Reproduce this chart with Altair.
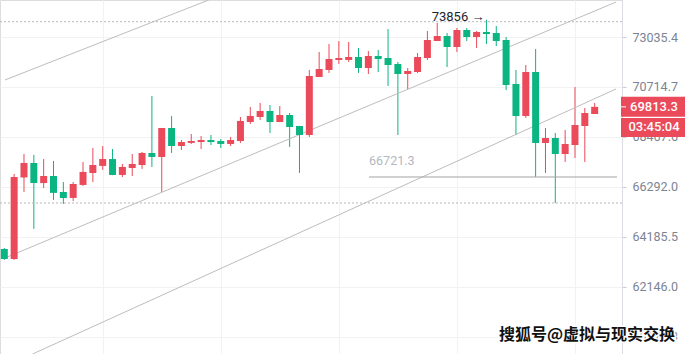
import altair as alt
import pandas as pd

# ---- data (4h candles, price on a log scale) ----
opens = [63690, 63280, 66700, 67330, 66460, 66765, 66080, 65825, 66380, 66895,
         67200, 67500, 66810, 67110, 67240, 67765, 67590, 68866, 68070, 68205,
         68245, 68335, 68290, 68160, 68290, 69135, 69358, 69627, 69135, 69448,
         68956, 68557, 71173, 71496, 71960, 71960, 72098, 71588, 72145, 72052,
         71773, 71311, 71403, 72052, 72847, 73082, 72565, 73367, 73035, 73272,
         73224, 72894, 70852, 69403, 71403, 68203, 68424, 67720, 68115, 68956,
         69493]
highs = [63730, 66850, 67720, 67680, 67500, 67415, 66505, 66505, 67370, 67985,
         68070, 67940, 67285, 67720, 67810, 70305, 68870, 69400, 68335, 68600,
         68510, 68555, 68380, 68470, 69358, 69807, 69990, 69897, 69852, 69538,
         68960, 71496, 72332, 72706, 72847, 72800, 72518, 72378, 72425, 73414,
         71866, 71588, 72285, 73320, 73699, 73224, 73462, 73462, 73320, 73856,
         73556, 73035, 71496, 71727, 72472, 68866, 68645, 68778, 70715, 69762,
         69988]
lows = [63240, 63240, 66080, 64520, 66250, 65740, 65570, 65695, 66335, 66505,
        67025, 66800, 66720, 66765, 67070, 67155, 66080, 67765, 67895, 68160,
        67940, 68115, 67985, 68070, 68205, 69045, 69225, 68645, 69130, 68027,
        66895, 68468, 71170, 71357, 71773, 71866, 71357, 71311, 71403, 70761,
        68557, 70624, 71357, 71959, 72847, 71634, 72332, 72847, 72518, 72706,
        72612, 70578, 68557, 69313, 66722, 66895, 65611, 67372, 67545, 67372,
        69493]
closes = [63280, 66720, 67330, 66460, 66765, 66040, 65825, 66420, 66940, 67240,
          67500, 66808, 67155, 67285, 67765, 67590, 68866, 68070, 68245, 68290,
          68335, 68245, 68160, 68335, 69180, 69403, 69627, 69135, 69448, 68911,
          68557, 71219, 71542, 72005, 72052, 72098, 71588, 72145, 72005, 71727,
          71311, 71450, 72098, 72894, 73082, 72565, 73367, 73035, 73272, 73177,
          72847, 70807, 69403, 71403, 68203, 68424, 67720, 68159, 69000, 69538,
          69813.3]

axis_ticks = [60170.3, 62146.0, 64185.5, 66292.0, 68467.6, 70714.7, 73035.4]
grid_index = [10, 22, 34, 46, 58]

range_lines = [73760, 65611]           # dashed high / low guides
key_level = 66721.3                    # horizontal level with label
key_start, key_end = 37.07, 62.27
high_index, high_value = 49, 73856
last_price, countdown = 69813.3, "03:45:04"

trend_names = ["top", "top", "mid", "mid", "low", "low"]
trend_index = [0.07, 20.77, 0.07, 62.17, 2.87, 62.17]
trend_price = [71036, 74802, 63321, 74702, 59513, 70624]

watermark = "搜狐号@虚拟与现实交换"

RED = "#ea4a59"
GREEN = "#0bb582"

# ---- tables ----
df = pd.DataFrame({"i": list(range(len(opens))), "open": opens, "high": highs,
                   "low": lows, "close": closes})
df["dir"] = ["up" if c >= o else "down" for o, c in zip(opens, closes)]

xscale = alt.Scale(domain=[0.07, 62.27], nice=False, zero=False)
yscale = alt.Scale(type="log", domain=[59513, 74802], nice=False, zero=False)
xaxis = alt.Axis(values=grid_index, labels=False, ticks=False, domain=False,
                 grid=True, gridColor="#f1f2f4", title=None)
yaxis = alt.Axis(orient="right", values=axis_ticks, format=".1f", title=None,
                 grid=True, gridColor="#f1f2f4", labelColor="#7b8493",
                 labelFontSize=12.5, labelFont="Roboto", tickSize=4,
                 tickColor="#c9ccd3", domainColor="#d9dce2", labelPadding=6)


def X(field):
    return alt.X(field, scale=xscale, axis=xaxis)


def Y(field):
    return alt.Y(field, scale=yscale, axis=yaxis)


color = alt.Color("dir:N", scale=alt.Scale(domain=["up", "down"], range=[RED, GREEN]),
                  legend=None)

base = alt.Chart(df)

wicks = base.mark_rule(strokeWidth=1, clip=True).encode(
    x=X("i:Q"), y=Y("low:Q"), y2="high:Q", color=color)

bodies = base.mark_bar(size=7, clip=True).encode(
    x=X("i:Q"), y=Y("open:Q"), y2="close:Q", color=color)

trend_df = pd.DataFrame({"line": trend_names, "i": trend_index, "price": trend_price})
trends = alt.Chart(trend_df).mark_line(clip=True, color="#bdbdbd", strokeWidth=1).encode(
    x=X("i:Q"), y=Y("price:Q"), detail="line:N")

range_df = pd.DataFrame({"price": range_lines})
guides = alt.Chart(range_df).mark_rule(strokeDash=[2, 2], color="#b8b8b8", strokeWidth=1).encode(
    y=Y("price:Q"), x=alt.value(0), x2=alt.value(622))

key_df = pd.DataFrame({"start": [key_start], "end": [key_end], "price": [key_level],
                       "label": [f"{key_level:.1f}"]})
key_line = alt.Chart(key_df).mark_rule(color="#a3a3a3", strokeWidth=1).encode(
    x=X("start:Q"), x2="end:Q", y=Y("price:Q"))
key_text = alt.Chart(key_df).mark_text(align="left", baseline="alphabetic", dy=-12,
                                       color="#b4b7bf", fontSize=12.5, font="Roboto").encode(
    x=X("start:Q"), y=Y("price:Q"), text="label:N")

hi_df = pd.DataFrame({"i": [high_index], "price": [high_value],
                      "label": [f"{high_value} →"]})
hi_text = alt.Chart(hi_df).mark_text(align="right", baseline="middle", dx=-2, dy=-3,
                                     color="#1e222d", fontSize=13, font="Roboto").encode(
    x=X("i:Q"), y=Y("price:Q"), text="label:N")

p_df = pd.DataFrame({"price": [last_price], "label": [f"{last_price:.1f}"],
                     "timer": [countdown]})
pbox = alt.Chart(p_df).mark_rect(height=20, color=RED).encode(
    x=alt.value(621), x2=alt.value(685), y=Y("price:Q"))
tbox = alt.Chart(p_df).mark_rect(height=19, yOffset=20.6, color=RED).encode(
    x=alt.value(621), x2=alt.value(685), y=Y("price:Q"))
ptick = alt.Chart(p_df).mark_rule(color="white", strokeWidth=1).encode(
    x=alt.value(621), x2=alt.value(626), y=Y("price:Q"))
ptext = alt.Chart(p_df).mark_text(color="white", fontSize=13, font="Roboto",
                                  fontWeight=500, align="center", baseline="middle").encode(
    x=alt.value(654), y=Y("price:Q"), text="label:N")
ttext = alt.Chart(p_df).mark_text(color="white", fontSize=13, font="Roboto", dy=20.6,
                                  fontWeight=500, align="center", baseline="middle").encode(
    x=alt.value(654), y=Y("price:Q"), text="timer:N")

wm_df = pd.DataFrame({"t": [watermark]})
wm_back = alt.Chart(wm_df).mark_text(font="Noto Sans CJK SC", fontSize=16, fontWeight="bold",
                                     stroke="white", strokeWidth=3, fill="white",
                                     align="center", baseline="middle").encode(
    x=alt.value(587), y=alt.value(335), text="t:N")
wm_front = alt.Chart(wm_df).mark_text(font="Noto Sans CJK SC", fontSize=16, fontWeight="bold",
                                      fill="#111111", align="center", baseline="middle").encode(
    x=alt.value(587), y=alt.value(335), text="t:N")

chart = alt.layer(
    wicks, trends, guides, key_line, key_text, bodies, hi_text,
    pbox, tbox, ptick, ptext, ttext, wm_back, wm_front,
).properties(
    width=622, height=354,
    autosize=alt.AutoSizeParams(type="none"),
    padding={"left": 0, "top": 0, "right": 63, "bottom": 0},
).configure_view(stroke=None).configure(background="white")

chart.save("out.html", embed_options={"renderer": "svg", "actions": False})
